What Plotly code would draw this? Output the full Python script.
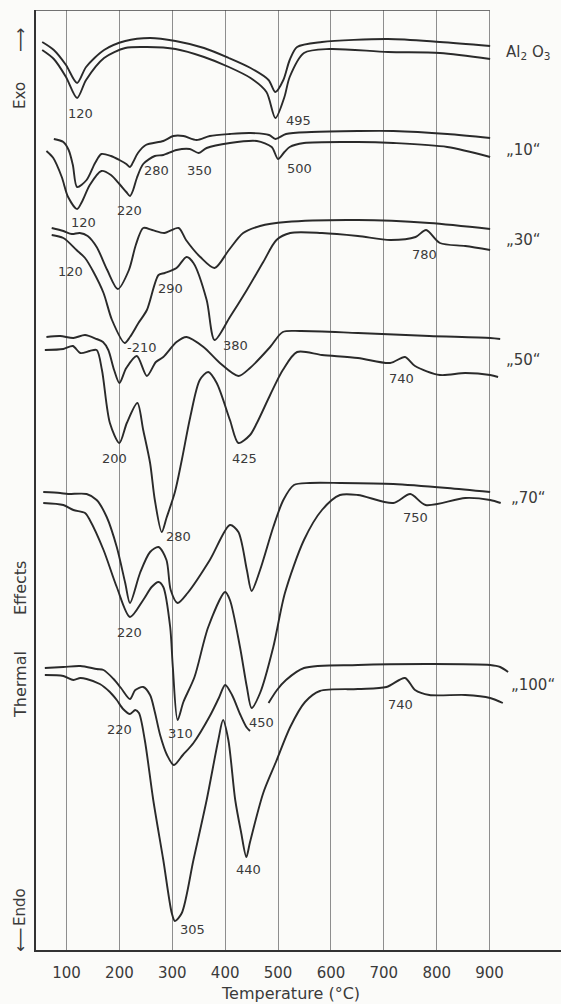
import plotly.graph_objects as go

# DTA curves: temperature (°C) vs. thermal signal (arbitrary units, exo upward).
# Each sample is recorded as a pair of traces (upper / lower).

AL2O3_UP_T = [54, 76, 99, 120, 137, 171, 211, 258, 306, 360, 407, 448, 482, 495, 510, 522, 536, 583, 708, 806, 901]
AL2O3_UP_V = [908, 900, 885, 867, 883, 900, 909, 912, 909, 902, 892, 882, 870, 858, 870, 890, 903, 908, 911, 908, 904]
AL2O3_LO_T = [54, 76, 99, 120, 137, 171, 211, 252, 306, 360, 407, 448, 478, 495, 512, 522, 549, 597, 708, 806, 901]
AL2O3_LO_V = [900, 891, 873, 852, 870, 892, 902, 903, 901, 893, 883, 872, 858, 832, 853, 873, 897, 901, 898, 897, 891]

TEN_UP_T = [76, 94, 104, 112, 120, 138, 154, 166, 184, 200, 213, 220, 226, 235, 250, 283, 302, 321, 346, 371,
            409, 448, 483, 495, 515, 563, 651, 718, 820, 901]
TEN_UP_V = [811, 808, 800, 785, 763, 770, 787, 796, 794, 790, 786, 783, 788, 797, 805, 809, 814, 814, 810, 814,
            816, 817, 815, 811, 816, 818, 819, 819, 816, 812]
TEN_LO_T = [62, 75, 91, 103, 120, 129, 144, 166, 184, 200, 213, 220, 226, 233, 245, 267, 283, 308, 333, 350,
            365, 409, 460, 488, 500, 512, 522, 549, 651, 718, 820, 901]
TEN_LO_V = [799, 792, 773, 753, 741, 748, 765, 779, 775, 766, 758, 754, 760, 772, 786, 794, 795, 800, 801, 797,
            802, 807, 809, 803, 791, 798, 803, 807, 808, 807, 803, 793]

THIRTY_UP_T = [72, 94, 110, 125, 140, 157, 177, 197, 218, 231, 245, 262, 285, 312, 326, 353, 380, 407, 434, 466,
               515, 651, 786, 901]
THIRTY_UP_V = [722, 719, 716, 717, 714, 703, 680, 661, 680, 705, 722, 720, 717, 722, 710, 693, 682, 700, 717, 724,
               728, 730, 727, 721]
THIRTY_LO_T = [72, 94, 119, 135, 151, 170, 186, 210, 220, 236, 252, 274, 286, 308, 327, 340, 365, 380, 409, 441,
               472, 497, 523, 583, 651, 712, 760, 780, 806, 854, 901]
THIRTY_LO_V = [715, 712, 700, 692, 678, 657, 630, 607, 613, 627, 640, 675, 677, 682, 693, 687, 650, 610, 633, 660,
               688, 710, 717, 717, 714, 710, 713, 720, 707, 704, 700]

FIFTY_UP_T = [62, 88, 113, 135, 157, 169, 179, 190, 200, 213, 233, 252, 269, 283, 308, 327, 359, 390, 425, 447,
              485, 509, 542, 651, 786, 901, 920]
FIFTY_UP_V = [613, 614, 612, 615, 611, 608, 600, 580, 567, 582, 594, 574, 588, 593, 608, 613, 603, 587, 574, 582,
              603, 618, 619, 617, 614, 612, 611]
FIFTY_LO_T = [59, 94, 112, 126, 144, 157, 167, 182, 200, 214, 234, 245, 258, 267, 280, 289, 305, 318, 334, 352,
              368, 384, 409, 425, 447, 460, 485, 509, 536, 583, 651, 712, 740, 759, 806, 854, 901, 916]
FIFTY_LO_V = [600, 601, 604, 597, 599, 600, 580, 527, 507, 527, 547, 520, 487, 450, 418, 432, 458, 490, 533, 570,
              578, 567, 530, 507, 515, 527, 555, 580, 598, 595, 592, 587, 593, 584, 575, 577, 575, 573]

SEVENTY_UP_T = [56, 88, 103, 138, 157, 176, 195, 211, 220, 239, 258, 274, 289, 297, 310, 329, 371, 409, 425, 441,
                450, 466, 491, 510, 530, 560, 617, 718, 820, 901]
SEVENTY_UP_V = [458, 457, 456, 456, 450, 433, 403, 367, 347, 377, 398, 403, 390, 360, 347, 357, 390, 425, 418, 380,
                359, 380, 423, 450, 465, 467, 467, 466, 462, 458]
SEVENTY_LO_T = [56, 94, 113, 135, 144, 170, 195, 220, 245, 261, 274, 283, 296, 301, 310, 321, 342, 368, 400, 409,
                428, 441, 450, 466, 491, 513, 549, 583, 617, 651, 718, 750, 779, 854, 901, 921]
SEVENTY_LO_V = [447, 445, 440, 437, 430, 400, 363, 333, 350, 363, 368, 363, 323, 283, 230, 248, 273, 323, 358, 350,
                303, 263, 242, 257, 303, 357, 410, 440, 455, 455, 447, 456, 445, 452, 450, 447]

# None marks the break in the trace where the "450" label sits
HUNDRED_UP_T = [59, 94, 126, 157, 170, 189, 203, 220, 230, 245, 258, 267, 277, 290, 303, 320, 340, 371, 388, 400,
                413, 428, 440, 447, None, 482, 498, 515, 549, 651, 787, 901, 920, 935]
HUNDRED_UP_V = [282, 283, 284, 281, 280, 271, 262, 251, 260, 263, 255, 238, 215, 195, 185, 195, 207, 234, 252, 265,
                255, 236, 223, 219, None, 247, 260, 270, 282, 285, 286, 285, 283, 278]
HUNDRED_LO_T = [59, 94, 113, 126, 138, 163, 182, 195, 207, 220, 230, 237, 248, 264, 283, 299, 305, 318, 340, 365,
                387, 396, 406, 419, 430, 440, 447, 472, 496, 523, 551, 579, 651, 705, 740, 759, 786, 854, 901, 925]
HUNDRED_LO_V = [275, 274, 270, 272, 271, 266, 258, 250, 241, 236, 240, 237, 210, 150, 90, 37, 29, 37, 90, 150,
                210, 230, 210, 150, 118, 93, 108, 157, 188, 223, 248, 259, 261, 263, 272, 260, 255, 255, 252, 247]

CURVES = [
    (AL2O3_UP_T, AL2O3_UP_V), (AL2O3_LO_T, AL2O3_LO_V),
    (TEN_UP_T, TEN_UP_V), (TEN_LO_T, TEN_LO_V),
    (THIRTY_UP_T, THIRTY_UP_V), (THIRTY_LO_T, THIRTY_LO_V),
    (FIFTY_UP_T, FIFTY_UP_V), (FIFTY_LO_T, FIFTY_LO_V),
    (SEVENTY_UP_T, SEVENTY_UP_V), (SEVENTY_LO_T, SEVENTY_LO_V),
    (HUNDRED_UP_T, HUNDRED_UP_V), (HUNDRED_LO_T, HUNDRED_LO_V),
]

TICK_TEMPS = [100, 200, 300, 400, 500, 600, 700, 800, 900]
TICK_TEXT = ["100", "200", "300", "400", "500", "600", "700", "800", "900"]

SAMPLE_NAMES = ["Al<sub>2</sub> O<sub>3</sub>", "„10“", "„30“", "„50“", "„70“", "„100“"]
PEAK_TEXT = ["120", "495",
             "120", "220", "280", "350", "500",
             "120", "290", "-210", "380", "780",
             "200", "425", "740", "280",
             "220", "750", "310", "450",
             "220", "740", "305", "440"]

# ---- styling / placement ----
INK = "#2a2a2a"
TXT = "#3a3a3a"
GRID = "rgba(105,105,105,0.75)"
BG = "#fbfbf9"
FONT = "DejaVu Sans"
X_MIN, X_MAX = 42.3, 1035
Y_MIN, Y_MAX = 0, 940

sample_pos = [(973, 898), (965, 800), (965, 710), (965, 590), (973, 452), (982, 265)]
peak_pos = [(127, 837), (538, 830),
            (133, 728), (220, 740), (270, 780), (352, 780), (541, 782),
            (107, 679), (297, 662), (242, 603), (420, 605), (776, 696),
            (190, 492), (437, 492), (733, 572), (312, 414),
            (220, 318), (759, 433), (315, 217), (468, 228),
            (201, 221), (732, 246), (338, 21), (445, 81)]

fig = go.Figure()
for t, v in CURVES:
    fig.add_trace(go.Scatter(
        x=t, y=v, mode="lines",
        line=dict(color=INK, width=1.9, shape="spline", smoothing=0.8),
        connectgaps=False, hoverinfo="skip", showlegend=False,
    ))

annotations = []
for txt, (x, y) in zip(PEAK_TEXT, peak_pos):
    annotations.append(dict(x=x, y=y, xref="x", yref="y", text=txt, showarrow=False,
                            font=dict(family=FONT, size=13, color=TXT)))
for txt, (x, y) in zip(SAMPLE_NAMES, sample_pos):
    annotations.append(dict(x=x, y=y, xref="x", yref="y", text=txt, showarrow=False,
                            font=dict(family=FONT, size=15, color=TXT)))

# vertical axis wording (rotated), centred 16 px left of the y axis line
for txt, y, size in [("⟶", 910, 17), ("Exo", 854, 15), ("Effects", 362, 16),
                     ("Thermal", 265, 16), ("Endo", 43, 15), ("⟵", 10, 17)]:
    annotations.append(dict(x=0, y=y, xref="paper", yref="y", text=txt, textangle=-90,
                            xanchor="center", yanchor="middle", xshift=-16,
                            showarrow=False, font=dict(family=FONT, size=size, color=TXT)))

annotations.append(dict(x=524, y=0, xref="x", yref="paper", text="Temperature (°C)",
                        showarrow=False, yanchor="middle", yshift=-43,
                        font=dict(family=FONT, size=16, color=TXT)))

fig.update_layout(
    width=561, height=1004,
    margin=dict(l=36, r=0, t=10, b=54),
    paper_bgcolor=BG, plot_bgcolor=BG,
    annotations=annotations,
    shapes=[dict(type="line", xref="x", yref="y", x0=X_MIN, x1=900, y0=Y_MAX, y1=Y_MAX,
                 line=dict(color="#444", width=1.3))],
    xaxis=dict(range=[X_MIN, X_MAX], tickvals=TICK_TEMPS, ticktext=TICK_TEXT,
               showgrid=True, gridcolor=GRID, gridwidth=1, zeroline=False,
               showline=True, linecolor="#333", linewidth=1.5,
               ticks="outside", ticklen=8, tickcolor="rgba(0,0,0,0)",
               tickfont=dict(family=FONT, size=15, color=TXT), fixedrange=True),
    yaxis=dict(range=[Y_MIN, Y_MAX], showgrid=False, zeroline=False, showticklabels=False,
               showline=True, linecolor="#333", linewidth=1.5, ticks="", fixedrange=True),
)

fig.write_html("out.html")
